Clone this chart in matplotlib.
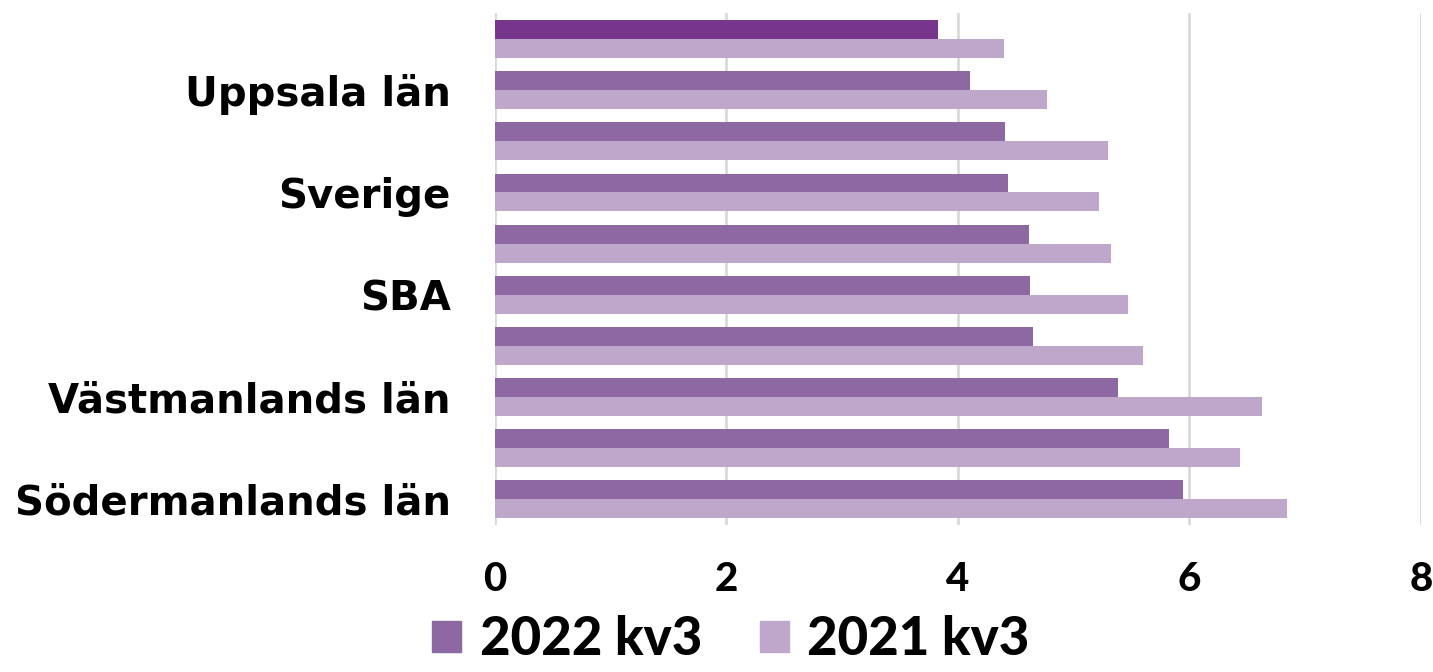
import matplotlib
matplotlib.use("Agg")
import matplotlib.pyplot as plt
import numpy as np
from matplotlib.patches import Patch

# data (rows top -> bottom)
labels = ["", "Uppsala län", "", "Sverige", "", "SBA", "", "Västmanlands län", "", "Södermanlands län"]
v2022 = [3.83, 4.10, 4.41, 4.43, 4.61, 4.62, 4.65, 5.38, 5.82, 5.94]
v2021 = [4.40, 4.77, 5.30, 5.22, 5.32, 5.47, 5.60, 6.63, 6.44, 6.84]
series_names = ["2022 kv3", "2021 kv3"]
xticks = [0, 2, 4, 6, 8]

c_dark = "#8E68A2"
c_hi = "#77368B"
c_light = "#BEA7CB"

plt.rcParams["font.family"] = ["Lato", "DejaVu Sans"]

fig = plt.figure(figsize=(14.33, 6.72), dpi=100)
ax = fig.add_axes([0.3454, 0.2188, 0.6462, 0.7612])

y = np.arange(len(labels))
h = 0.37
dark_cols = [c_hi] + [c_dark] * (len(labels) - 1)
ax.barh(y - h / 2, v2022, height=h, color=dark_cols, zorder=3)
ax.barh(y + h / 2, v2021, height=h, color=c_light, zorder=3)

ax.set_ylim(len(labels) - 0.5, -0.5)
ax.set_xlim(0, 8)
ax.set_xticks(xticks)
ax.set_xticklabels([str(t) for t in xticks])
ax.set_yticks(y)
ax.set_yticklabels(labels, fontfamily="DejaVu Sans", fontweight="bold", fontsize=29)

ax.grid(True, axis="x", color="#D9D9D9", linewidth=2, zorder=0)
for s in ["top", "right", "bottom", "left"]:
    ax.spines[s].set_visible(False)
ax.tick_params(axis="both", length=0)
ax.tick_params(axis="x", pad=26, labelsize=29)
ax.tick_params(axis="y", pad=32)
for t in ax.get_xticklabels():
    t.set_fontweight("black")
for t in ax.get_yticklabels():
    t.set_y(t.get_position()[1])

handles = [Patch(color=c_dark), Patch(color=c_light)]
leg = fig.legend(handles, series_names, loc="center", bbox_to_anchor=(0.51, 0.048),
                 ncol=2, frameon=False, prop={"size": 38, "weight": "black"},
                 handlelength=0.55, handleheight=0.55, handletextpad=0.35, columnspacing=1.1,
                 borderpad=0.1)

fig.savefig("out.png", dpi=100)
